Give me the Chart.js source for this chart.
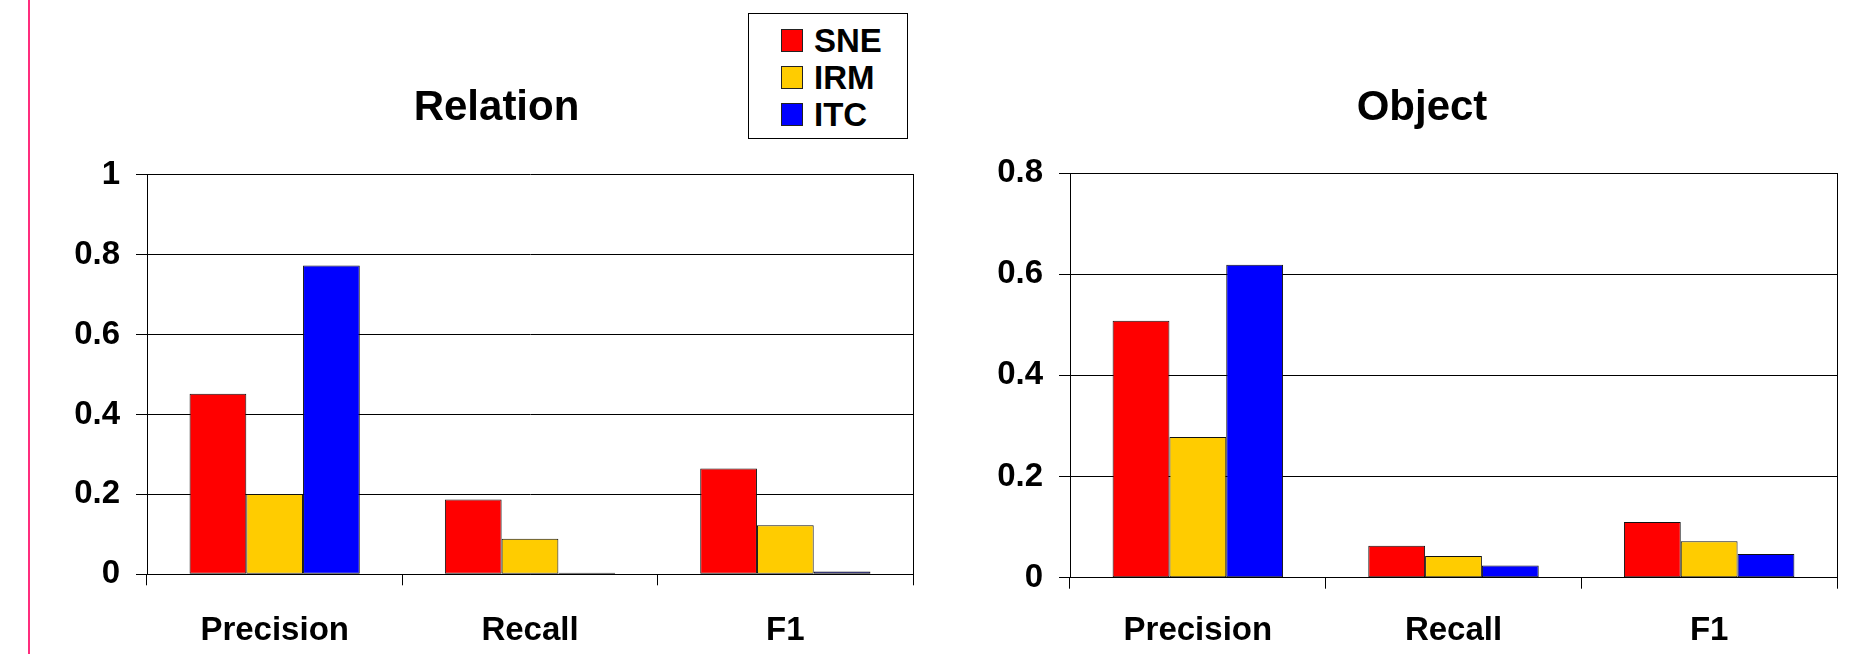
<!DOCTYPE html>
<html>
<head>
<meta charset="utf-8">
<script src="https://cdn.jsdelivr.net/npm/chart.js@4.4.1/dist/chart.umd.min.js"></script>
<style>
  html, body { margin: 0; padding: 0; background: #fff; }
  body { width: 1854px; height: 654px; position: relative; overflow: hidden;
         font-family: "Liberation Sans", Arial, sans-serif; }
  #margin-rule { position: absolute; left: 28px; top: 0; width: 2px; height: 654px; background: #ff2d7d; }
  canvas { position: absolute; top: 0; }
  #relationChart { left: 0; }
  #objectChart { left: 990px; }
  #legend { position: absolute; left: 748px; top: 13px; width: 158px; height: 124px;
            border: 1px solid #000; background: #fff; }
  .row { position: absolute; left: 32px; height: 33px; line-height: 33px;
         font-size: 33px; font-weight: bold; color: #000; white-space: nowrap; }
  .sw { position: absolute; left: 0; top: 4.5px; width: 20px; height: 21px; border: 1px solid #222; }
  .lbl { position: absolute; left: 33px; top: 0; }
</style>
</head>
<body>
<div id="margin-rule"></div>
<canvas id="relationChart" width="993" height="654"></canvas>
<canvas id="objectChart" width="864" height="654"></canvas>
<div id="legend"></div>

<script>
// Categories and series
const categories = ['Precision', 'Recall', 'F1'];
const seriesNames = ['SNE', 'IRM', 'ITC'];
const seriesColors = ['#ff0000', '#ffcc00', '#0000ff'];

// Relation scores
const relationSNE = [0.452, 0.187, 0.265];
const relationIRM = [0.201, 0.089, 0.123];
const relationITC = [0.773, 0.004, 0.007];

// Object scores
const objectSNE = [0.508, 0.063, 0.110];
const objectIRM = [0.278, 0.043, 0.072];
const objectITC = [0.619, 0.024, 0.047];

// Y-axis tick values
const relationTicks = [0, 0.2, 0.4, 0.6, 0.8, 1];
const objectTicks = [0, 0.2, 0.4, 0.6, 0.8];

const FONT = '"Liberation Sans", Arial, sans-serif';

function makeChart(canvasId, title, seriesValues, ticks, g) {
  return new Chart(document.getElementById(canvasId), {
    type: 'bar',
    data: {
      labels: categories,
      datasets: seriesValues.map((vals, i) => ({
        label: seriesNames[i],
        data: vals,
        yAxisID: 'y',
        backgroundColor: seriesColors[i],
        borderColor: '#111',
        borderWidth: 1,
        borderSkipped: false,
        categoryPercentage: 3 / 4.5,
        barPercentage: 1
      }))
    },
    options: {
      responsive: false,
      animation: false,
      devicePixelRatio: 1,
      layout: { padding: 0 },
      plugins: {
        legend: { display: false },
        tooltip: { enabled: false },
        title: {
          display: true,
          text: title,
          color: '#000',
          font: { family: FONT, size: 42, weight: 'bold', lineHeight: 1.2 },
          padding: { top: g.titleTop, bottom: g.titleBottom }
        }
      },
      scales: {
        x: {
          grid: { offset: true, drawOnChartArea: false, drawTicks: true, tickLength: 11, color: '#000', lineWidth: 1 },
          border: { display: true, color: '#000', width: 1 },
          ticks: { color: '#000', padding: g.xPad, maxRotation: 0, autoSkip: false,
                   font: { family: FONT, size: 33, weight: 'bold' } },
          afterFit: s => { s.height = g.xHeight; }
        },
        y: {
          min: 0,
          max: ticks[ticks.length - 1],
          afterBuildTicks: s => { s.ticks = ticks.map(v => ({ value: v })); },
          grid: { color: '#000', lineWidth: 1, tickLength: 11 },
          border: { display: true, color: '#000', width: 1 },
          ticks: { color: '#000', padding: 16, callback: v => String(v),
                   font: { family: FONT, size: 33, weight: 'bold' } },
          afterFit: s => { s.width = g.yWidth; }
        },
        yR: {
          position: 'right',
          min: 0,
          max: ticks[ticks.length - 1],
          grid: { display: false },
          ticks: { display: false },
          border: { display: true, color: '#000', width: 1 },
          afterFit: s => { s.width = g.rWidth; }
        }
      }
    }
  });
}

const relationChart = makeChart('relationChart', 'Relation',
  [relationSNE, relationIRM, relationITC], relationTicks,
  { titleTop: 83.3, titleBottom: 41.1, xHeight: 79.7, xPad: 26, yWidth: 147, rWidth: 80 });

const objectChart = makeChart('objectChart', 'Object',
  [objectSNE, objectIRM, objectITC], objectTicks,
  { titleTop: 83.3, titleBottom: 39.4, xHeight: 76.3, xPad: 22.5, yWidth: 80, rWidth: 17 });

// Shared legend built from the chart's datasets
const legend = document.getElementById('legend');
relationChart.data.datasets.forEach((ds, i) => {
  const row = document.createElement('div');
  row.className = 'row';
  row.style.top = (10 + i * 37) + 'px';
  const sw = document.createElement('span');
  sw.className = 'sw';
  sw.style.background = ds.backgroundColor;
  const lbl = document.createElement('span');
  lbl.className = 'lbl';
  lbl.textContent = ds.label;
  row.appendChild(sw);
  row.appendChild(lbl);
  legend.appendChild(row);
});
</script>
</body>
</html>
